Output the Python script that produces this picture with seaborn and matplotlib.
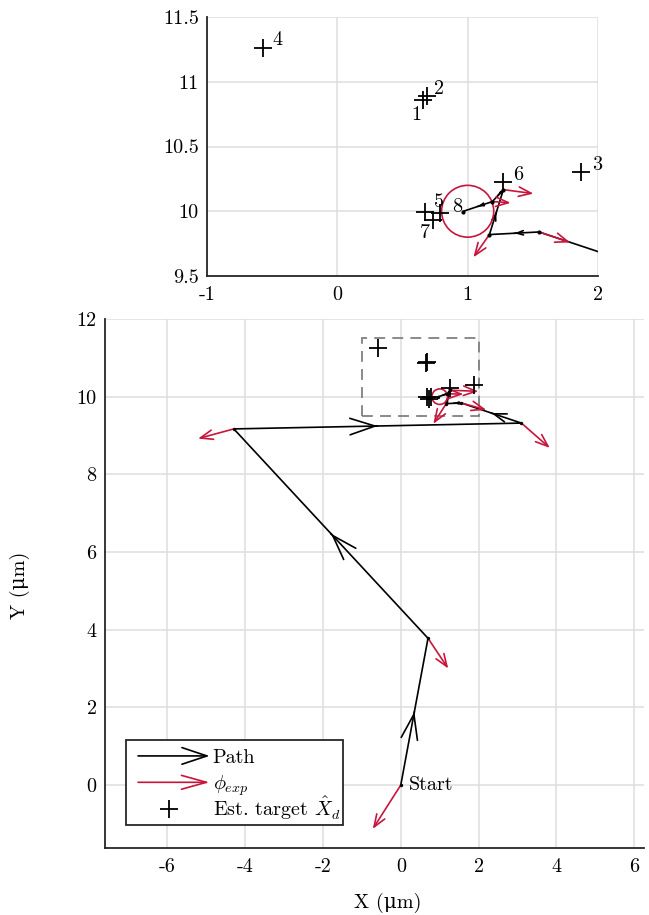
import numpy as np
import pandas as pd
import matplotlib
matplotlib.use("Agg")
import matplotlib.pyplot as plt
import seaborn as sns
from matplotlib.patches import Circle, Rectangle, FancyArrowPatch
from matplotlib.lines import Line2D
from matplotlib.legend_handler import HandlerBase
from matplotlib.offsetbox import TextArea
from matplotlib.transforms import Bbox

# ---------------- data ----------------
path_x = [0.0, 0.70, -4.29, 3.10, 1.548, 1.167, 1.274, 1.19, 0.962]
path_y = [0.0, 3.78, 9.17, 9.32, 9.84, 9.82, 10.167, 10.075, 9.998]

# phi_exp arrows (components) drawn in the main axes, one per path point (last has none)
phi_main_u = [-0.72, 0.52, -0.92, 0.73, 0.65, -0.33, 0.72, 0.42]
phi_main_v = [-1.13, -0.78, -0.25, -0.64, -0.18, -0.52, -0.03, -0.01]
# phi_exp arrows drawn in the zoomed axes (points 5..8 of the path)
phi_zoom_idx = [4, 5, 6, 7]
phi_zoom_u = [0.238, -0.123, 0.231, 0.14]
phi_zoom_v = [-0.081, -0.176, -0.031, -0.01]

target_x = [0.655, 0.686, 1.87, -0.573, 0.788, 1.268, 0.732, 0.673]
target_y = [10.86, 10.887, 10.30, 11.26, 9.99, 10.225, 9.936, 9.995]

label_text = ["1", "2", "3", "4", "5", "6", "7", "8"]
label_x = [0.604, 0.78, 1.99, -0.457, 0.783, 1.384, 0.673, 0.916]
label_y = [10.746, 10.94, 10.36, 11.32, 10.07, 10.277, 9.833, 10.03]

circle_x, circle_y, circle_r = 1.0, 10.0, 0.2

main_xticks = [-6, -4, -2, 0, 2, 4, 6]
main_xticklabels = ["-6", "-4", "-2", "0", "2", "4", "6"]
main_yticks = [0, 2, 4, 6, 8, 10, 12]
main_yticklabels = ["0", "2", "4", "6", "8", "10", "12"]
zoom_xticks = [-1, 0, 1, 2]
zoom_xticklabels = ["-1", "0", "1", "2"]
zoom_yticks = [9.5, 10, 10.5, 11, 11.5]
zoom_yticklabels = ["9.5", "10", "10.5", "11", "11.5"]
zoom_xlim = (-1, 2)
zoom_ylim = (9.5, 11.5)
main_xlim = (-7.6, 6.25)
main_ylim = (-1.62, 12)

start_label = "Start"
xlabel = "X (μm)"
ylabel = "Y (μm)"
legend_labels = ["Path", r"$\phi_{exp}$", r"Est. target $\hat{X}_d$"]

# ---------------- style ----------------
sns.set_theme(style="white")
FS = 14.5
plt.rcParams["font.family"] = ["cmr10", "DejaVu Serif"]
plt.rcParams["mathtext.fontset"] = "cm"
plt.rcParams["axes.unicode_minus"] = False
plt.rcParams["axes.formatter.use_mathtext"] = True
plt.rcParams["font.size"] = FS
plt.rcParams["text.color"] = "black"
plt.rcParams["axes.labelcolor"] = "black"

RED = "#C8153C"
AXC = "#262626"
GRID = "#dedede"

fig = plt.figure(figsize=(6.49, 9.15), dpi=100)
W, H = 649, 915
ax_main = fig.add_axes([105 / W, 1 - 848 / H, 539 / W, 529 / H])
ax_zoom = fig.add_axes([207 / W, 1 - 276 / H, 391 / W, 259 / H])

path_df = pd.DataFrame({"x": path_x, "y": path_y, "order": np.arange(len(path_x))})
tgt_df = pd.DataFrame({"x": target_x, "y": target_y})


def arrow(ax, x0, y0, x1, y1, color, hl, hw, lw=1.1):
    ax.annotate("", xy=(x1, y1), xytext=(x0, y0),
                arrowprops=dict(arrowstyle=f"->,head_length={hl / 10:.3f},head_width={hw / 10:.3f}",
                                color=color, lw=lw, shrinkA=0, shrinkB=0, mutation_scale=10),
                annotation_clip=False, zorder=4)


def style_axes(ax, xt, xtl, yt, ytl, xlim, ylim):
    ax.set_xlim(*xlim)
    ax.set_ylim(*ylim)
    ax.set_xticks(xt)
    ax.set_xticklabels(xtl)
    ax.set_yticks(yt)
    ax.set_yticklabels(ytl)
    ax.grid(True, color=GRID, lw=1.1)
    ax.set_axisbelow(True)
    for s in ["top", "right"]:
        ax.spines[s].set_visible(False)
    for s in ["left", "bottom"]:
        ax.spines[s].set_color(AXC)
        ax.spines[s].set_linewidth(1.3)
    ax.tick_params(direction="in", length=3.5, width=1.1, color=AXC, labelsize=FS,
                   labelcolor="black")
    ax.tick_params(axis="x", pad=7)
    ax.tick_params(axis="y", pad=6)
    ax.set_facecolor("white")


def draw_scene(ax, phi_idx, phi_u, phi_v, big_head, head_frac, dot_size):
    # path
    sns.lineplot(data=path_df, x="x", y="y", sort=False, estimator=None, color="black",
                 lw=1.2, ax=ax, legend=False, zorder=3)
    sns.scatterplot(data=path_df, x="x", y="y", color="black", s=dot_size, ax=ax,
                    legend=False, zorder=5, linewidth=0)
    # direction heads at midpoints
    px_per_unit = ax.bbox.width / (ax.get_xlim()[1] - ax.get_xlim()[0])
    for i in range(len(path_x) - 1):
        x0, y0, x1, y1 = path_x[i], path_y[i], path_x[i + 1], path_y[i + 1]
        mx, my = (x0 + x1) / 2, (y0 + y1) / 2
        L = np.hypot(x1 - x0, y1 - y0)
        ux, uy = (x1 - x0) / L, (y1 - y0) / L
        hl_px = min(big_head, head_frac * L * px_per_unit)
        hl = hl_px * 72 / 100
        xl, yl = ax.get_xlim(), ax.get_ylim()
        if not (xl[0] <= mx <= xl[1] and yl[0] <= my <= yl[1]):
            continue
        arrow(ax, mx - ux * 1e-3, my - uy * 1e-3, mx, my, "black", hl, hl * 0.33, lw=1.2)
    # phi arrows
    for k, i in enumerate(phi_idx):
        x0, y0 = path_x[i], path_y[i]
        arrow(ax, x0, y0, x0 + phi_u[k], y0 + phi_v[k], RED, 9, 3.4, lw=1.2)
    # targets
    sns.scatterplot(data=tgt_df, x="x", y="y", marker="+", s=150, color="black",
                    linewidth=1.3, ax=ax, legend=False, zorder=6)
    ax.add_patch(Circle((circle_x, circle_y), circle_r, fill=False, edgecolor=RED,
                        lw=1.2, zorder=4))
    ax.set_xlabel("")
    ax.set_ylabel("")


style_axes(ax_main, main_xticks, main_xticklabels, main_yticks, main_yticklabels,
           main_xlim, main_ylim)
style_axes(ax_zoom, zoom_xticks, zoom_xticklabels, zoom_yticks, zoom_yticklabels,
           zoom_xlim, zoom_ylim)

draw_scene(ax_main, list(range(len(phi_main_u))), phi_main_u, phi_main_v,
           big_head=25, head_frac=0.2, dot_size=6)
draw_scene(ax_zoom, phi_zoom_idx, phi_zoom_u, phi_zoom_v,
           big_head=7, head_frac=0.13, dot_size=9)

# zoom-region rectangle in the main axes
ax_main.add_patch(Rectangle((zoom_xlim[0], zoom_ylim[0]), zoom_xlim[1] - zoom_xlim[0],
                            zoom_ylim[1] - zoom_ylim[0], fill=False, edgecolor="#808080",
                            lw=1.3, ls=(0, (6, 4)), zorder=2))

# labels in zoom axes
for t, x, y in zip(label_text, label_x, label_y):
    ax_zoom.text(x, y, t, ha="center", va="center", fontsize=FS, zorder=7)

ax_main.text(path_x[0] + 0.2, path_y[0], start_label, ha="left", va="center", fontsize=FS)

ax_main.set_xlabel(xlabel, fontsize=FS)
ax_main.set_ylabel(ylabel, fontsize=FS)
ax_main.xaxis.label.set_va("center")
ax_main.yaxis.label.set_va("center")
ax_main.xaxis.set_label_coords((388 - 105) / 539, (848 - 903) / 529)
ax_main.yaxis.set_label_coords((20 - 105) / 539, (848 - 585) / 529)


# legend with arrow handles
class ArrowHandler(HandlerBase):
    def __init__(self, color, hl, hw, lead):
        super().__init__()
        self.color, self.hl, self.hw, self.lead = color, hl, hw, lead

    def create_artists(self, legend, orig_handle, xdescent, ydescent, width, height,
                       fontsize, trans):
        y = (height - ydescent) / 2
        p = FancyArrowPatch((-xdescent + self.lead, y), (width - xdescent, y),
                            arrowstyle=f"->,head_length={self.hl / 10:.3f},head_width={self.hw / 10:.3f}",
                            mutation_scale=10, color=self.color, lw=1.2,
                            shrinkA=0, shrinkB=0, transform=trans)
        return [p]


h_path = Line2D([], [], color="black")
h_phi = Line2D([], [], color=RED)
h_tgt = Line2D([], [], color="black", marker="+", ls="none", markersize=13, mew=1.3)
leg = ax_main.legend([h_path, h_phi, h_tgt], legend_labels,
                     handler_map={h_path: ArrowHandler("black", 18, 6, 6.5),
                                  h_phi: ArrowHandler(RED, 18, 5, 6.5)},
                     loc="lower left", bbox_to_anchor=(21 / 539, 23 / 529),
                     borderaxespad=0, fancybox=False, framealpha=1, fontsize=FS,
                     handlelength=4.0, handleheight=0.7, handletextpad=0.15,
                     labelspacing=0.0, borderpad=0.15)
leg.get_frame().set_edgecolor(AXC)
leg.get_frame().set_linewidth(1.3)

# give every legend row the same height so the rows are evenly spaced
ROW_ASC, ROW_DESC = 1.0, 0.31   # in units of the font size


def _uniform_rows(box):
    for child in box.get_children():
        if isinstance(child, TextArea):
            orig = child.get_bbox

            def gb(renderer, _orig=orig):
                bb = _orig(renderer)
                px = renderer.points_to_pixels(FS)
                return Bbox.from_bounds(bb.x0, -ROW_DESC * px, bb.width,
                                        (ROW_ASC + ROW_DESC) * px)
            child.get_bbox = gb
        else:
            _uniform_rows(child)


_uniform_rows(leg._legend_handle_box)

fig.savefig("out.png", dpi=100)
